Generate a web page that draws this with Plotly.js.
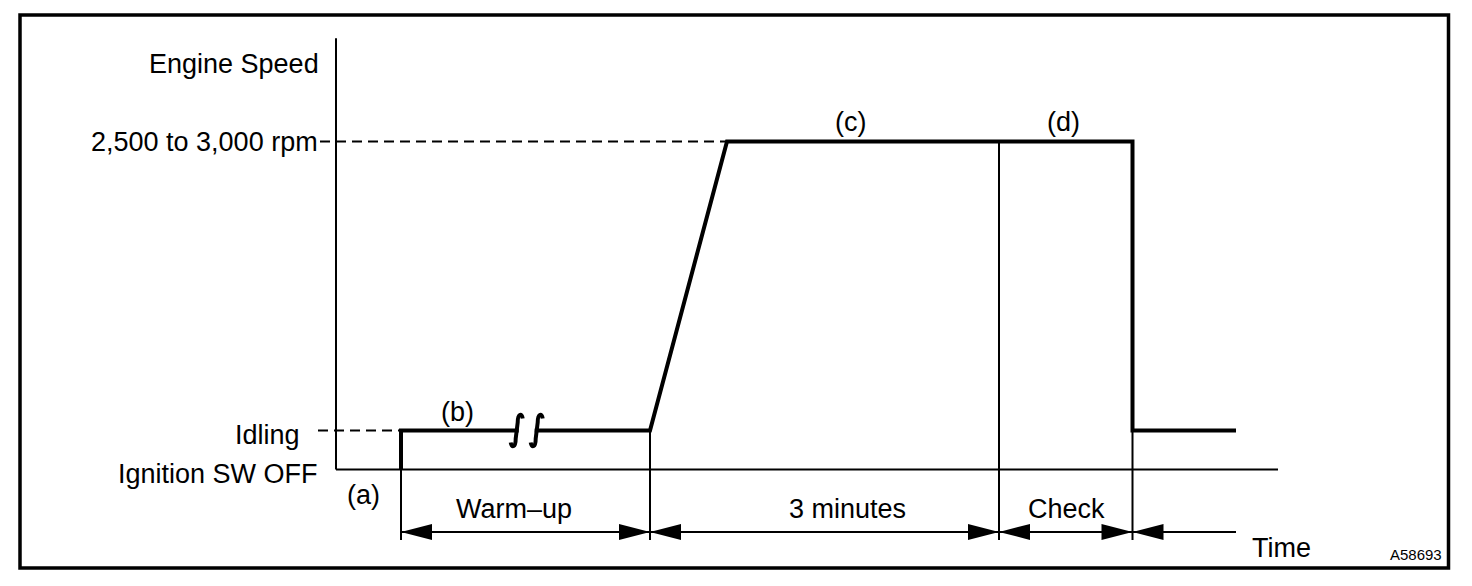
<!DOCTYPE html>
<html>
<head>
<meta charset="utf-8">
<script src="https://cdn.plot.ly/plotly-3.0.1.min.js"></script>
<style>
html, body { margin: 0; padding: 0; background: #ffffff; }
#chart { width: 1472px; height: 586px; }
</style>
</head>
<body>
<div id="chart"></div>
<script>
// ---------- DATA (schematic units) ----------
// Time points (arbitrary schematic time units)
const tAxisStart = 0;
const tIgnitionOn = 6.5;
const tWarmupEnd = 31.4;
const tReachSpeed = 39.1;
const tThreeMinEnd = 66.3;
const tCheckEnd = 79.65;
const tTraceEnd = 90.0;
const tAxisEnd = 94.2;
const tBreak = 19.07;

// Engine speed levels (schematic, not to scale)
const levelOff = 0;
const levelIdle = 1;
const levelHigh = 8.41;
const levelAxisTop = 11.06;
const levelDimension = -1.6;
const levelExtensionBottom = -1.81;

// Engine speed profile
const curveTime  = [tIgnitionOn, tIgnitionOn, tWarmupEnd, tReachSpeed, tCheckEnd, tCheckEnd, tTraceEnd];
const curveLevel = [levelOff,    levelIdle,   levelIdle,  levelHigh,   levelHigh, levelIdle, levelIdle];

// Level (tick) labels
const levelValues = [levelHigh, levelIdle, levelOff];
const levelLabels = ['2,500 to 3,000 rpm', 'Idling', 'Ignition SW OFF'];

// Phases along the time line
const phaseNames = ['Warm\u2013up', '3 minutes', 'Check'];
const phaseStart = [tIgnitionOn, tWarmupEnd, tThreeMinEnd];
const phaseEnd   = [tWarmupEnd, tThreeMinEnd, tCheckEnd];

// Step markers
const stepLabels = ['(a)', '(b)', '(c)', '(d)'];
const stepTime   = [tIgnitionOn, tIgnitionOn, (tReachSpeed + tThreeMinEnd) / 2, (tThreeMinEnd + tCheckEnd) / 2];
const stepLevel  = [levelOff, levelIdle, levelHigh, levelHigh];

// Boundaries with extension lines (time, top level)
const boundaryTime  = [tIgnitionOn, tWarmupEnd, tThreeMinEnd, tCheckEnd];
const boundaryLevel = [levelIdle, levelIdle, levelHigh, levelHigh];

const axisTitleY = 'Engine Speed';
const axisTitleX = 'Time';
const figureCode = 'A58693';

// ---------- LAYOUT / STYLE ----------
const W = 1472, H = 586;
const xPxPerUnit = 10, xOriginPx = 336;
const yPxPerUnit = 39, yOriginPx = 469.5;
const xRange = [-xOriginPx / xPxPerUnit, (W - xOriginPx) / xPxPerUnit];
const yRange = [-(H - yOriginPx) / yPxPerUnit, yOriginPx / yPxPerUnit];

const FONT = 'Liberation Sans, Arial, Helvetica, sans-serif';
const FS = 27;
const ink = '#000000';

const traces = [];

// axes drawn as lines
traces.push({
  x: [tAxisStart, tAxisStart, null, tAxisStart, tAxisEnd],
  y: [levelAxisTop, levelOff, null, levelOff, levelOff],
  mode: 'lines', line: { color: ink, width: 2 }, hoverinfo: 'skip'
});

// dashed guide lines
traces.push({
  x: [tAxisStart - 1.6, tReachSpeed, null, tAxisStart - 1.8, tIgnitionOn],
  y: [levelHigh, levelHigh, null, levelIdle, levelIdle],
  mode: 'lines', line: { color: ink, width: 2, dash: '10px,6px' }, hoverinfo: 'skip'
});

// extension lines
const extX = [], extY = [];
boundaryTime.forEach((t, i) => {
  extX.push(t, t, null);
  extY.push(boundaryLevel[i], levelExtensionBottom, null);
});
traces.push({ x: extX, y: extY, mode: 'lines', line: { color: ink, width: 2 }, hoverinfo: 'skip' });

// dimension line
traces.push({
  x: [tIgnitionOn, tTraceEnd], y: [levelDimension, levelDimension],
  mode: 'lines', line: { color: ink, width: 2 }, hoverinfo: 'skip'
});

// engine speed profile
traces.push({
  x: curveTime, y: curveLevel, mode: 'lines',
  line: { color: ink, width: 4, shape: 'linear' }, hoverinfo: 'skip'
});

// ---------- SHAPES ----------
const shapes = [];
const arrowLen = 31, arrowHalf = 8;
function arrowHead(t, dir) {
  // dir = -1 points left (body to the right), +1 points right (body to the left)
  const b = -dir * arrowLen;
  shapes.push({
    type: 'path', xref: 'x', yref: 'y', xsizemode: 'pixel', ysizemode: 'pixel',
    xanchor: t, yanchor: levelDimension,
    path: `M 0 0 L ${b} ${arrowHalf} L ${b} ${-arrowHalf} Z`,
    fillcolor: ink, line: { width: 0 }
  });
}
arrowHead(phaseStart[0], -1);
phaseEnd.forEach(t => { arrowHead(t, 1); arrowHead(t, -1); });

// break mark on the idle line
shapes.push({
  type: 'path', xref: 'x', yref: 'y', xsizemode: 'pixel', ysizemode: 'pixel',
  xanchor: tBreak, yanchor: levelIdle,
  path: 'M -8 4 L 8 4 L 8 -4 L -8 -4 Z', fillcolor: '#ffffff', line: { width: 0 }
});
[-10, 10].forEach(c => {
  shapes.push({
    type: 'path', xref: 'x', yref: 'y', xsizemode: 'pixel', ysizemode: 'pixel',
    xanchor: tBreak, yanchor: levelIdle,
    path: `M ${c + 6} 12 C ${c + 5} 18, ${c + 1} 17, ${c + 1} 8 L ${c - 1} -8 C ${c - 1} -17, ${c - 5} -18, ${c - 6} -12`,
    line: { color: ink, width: 4 }
  });
});

// outer frame
shapes.push({
  type: 'rect', xref: 'paper', yref: 'paper',
  x0: 20 / W, x1: 1448.5 / W, y0: 1 - 568 / H, y1: 1 - 15 / H,
  line: { color: ink, width: 3.5 }, fillcolor: 'rgba(0,0,0,0)'
});

// ---------- ANNOTATIONS ----------
const annotations = [];
function txt(o) {
  annotations.push(Object.assign({
    showarrow: false, borderpad: 0, borderwidth: 0,
    font: { family: FONT, size: FS, color: ink }
  }, o));
}

// y title
txt({ text: axisTitleY, x: tAxisStart, y: levelAxisTop, xref: 'x', yref: 'y',
      xanchor: 'right', yanchor: 'middle', xshift: -17, yshift: -25.5 });

// level labels
const lvlXShift = [-18, -36, -18];
const lvlYShift = [0, -4, -4.5];
levelLabels.forEach((s, i) => {
  txt({ text: s, x: tAxisStart, y: levelValues[i], xref: 'x', yref: 'y',
        xanchor: 'right', yanchor: 'middle', xshift: lvlXShift[i], yshift: lvlYShift[i] });
});

// step labels
const stepXShift = [-37.5, 56, -12.5, -2.5];
const stepYShift = [-25.5, 18.5, 20, 20];
stepLabels.forEach((s, i) => {
  txt({ text: s, x: stepTime[i], y: stepLevel[i], xref: 'x', yref: 'y',
        xanchor: 'center', yanchor: 'middle', xshift: stepXShift[i], yshift: stepYShift[i] });
});

// phase labels
const phaseXShift = [-12, 22.5, 1];
phaseNames.forEach((s, i) => {
  txt({ text: s, x: (phaseStart[i] + phaseEnd[i]) / 2, y: levelDimension, xref: 'x', yref: 'y',
        xanchor: 'center', yanchor: 'middle', xshift: phaseXShift[i], yshift: 23 });
});

// x title
txt({ text: axisTitleX, x: tTraceEnd, y: levelDimension, xref: 'x', yref: 'y',
      xanchor: 'left', yanchor: 'middle', xshift: 16, yshift: -16 });

// figure code
txt({ text: figureCode, x: 1442 / W, y: 1 - 554 / H, xref: 'paper', yref: 'paper',
      xanchor: 'right', yanchor: 'middle', font: { family: FONT, size: 15, color: ink } });

const layout = {
  width: W, height: H,
  margin: { l: 0, r: 0, t: 0, b: 0, pad: 0 },
  paper_bgcolor: '#ffffff', plot_bgcolor: '#ffffff',
  showlegend: false, hovermode: false,
  xaxis: { range: xRange, visible: false, showgrid: false, zeroline: false, fixedrange: true },
  yaxis: { range: yRange, visible: false, showgrid: false, zeroline: false, fixedrange: true },
  shapes: shapes,
  annotations: annotations
};

Plotly.newPlot('chart', traces, layout, { staticPlot: true, displayModeBar: false });
</script>
</body>
</html>
